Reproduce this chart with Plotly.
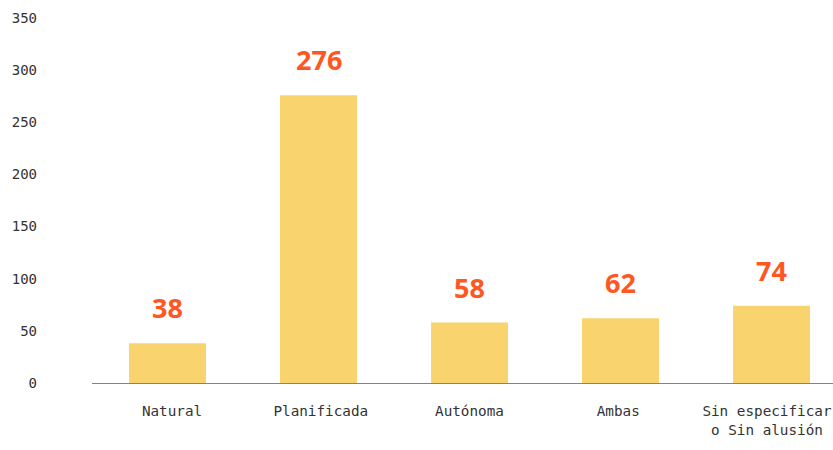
import plotly.graph_objects as go

categories = ["Natural", "Planificada", "Autónoma", "Ambas", "Sin especificar<br>o Sin alusión"]
counts = [38, 276, 58, 62, 74]

BAR_COLOR = "#F9D46E"
LABEL_COLOR = "#FF5722"

fig = go.Figure()
fig.add_trace(go.Bar(
    x=list(range(len(categories))),
    y=counts,
    width=0.51,
    marker=dict(color=BAR_COLOR, line=dict(width=0)),
    hoverinfo="skip",
))
# invisible trace that carries the category labels on their own (slightly narrower) axis
fig.add_trace(go.Scatter(
    x=list(range(len(categories))), y=[0] * len(categories),
    xaxis="x2", mode="markers", marker=dict(opacity=0), hoverinfo="skip",
))

# value labels above each bar
for i, v in enumerate(counts):
    fig.add_annotation(
        x=i, y=v, text=str(v), showarrow=False,
        yanchor="bottom", yshift=15,
        font=dict(family="Open Sans", size=27, color=LABEL_COLOR, weight="bold"),
    )

fig.update_layout(
    width=833, height=450,
    margin=dict(l=92, r=0, t=18, b=67),
    plot_bgcolor="white", paper_bgcolor="white",
    showlegend=False,
    font=dict(family="DejaVu Sans Mono", size=14, color="#333333"),
    xaxis=dict(
        range=[-0.5, 4.407],
        showgrid=False, zeroline=False, showticklabels=False,
        showline=True, linecolor=LABEL_COLOR, linewidth=1,
        ticks="", automargin=False,
    ),
    xaxis2=dict(
        overlaying="x", anchor="y", side="bottom",
        range=[-0.538, 4.444],
        tickmode="array",
        tickvals=list(range(len(categories))),
        ticktext=categories,
        showgrid=False, zeroline=False, showline=False,
        ticks="", ticklabelstandoff=18,
        ticklabeloverflow="allow", automargin=False,
        tickfont=dict(size=14.3),
    ),
    yaxis=dict(
        range=[0, 350], tickvals=[0, 50, 100, 150, 200, 250, 300, 350],
        showgrid=False, zeroline=False, showline=False,
        ticks="", ticklabelstandoff=54, automargin=False,
        tickfont=dict(size=14),
    ),
)

# drop the default 8px body margin so the figure fills the window
fig.write_html("out.html", config={"displayModeBar": False},
               post_script="document.body.style.margin='0';document.body.style.overflow='hidden';")
